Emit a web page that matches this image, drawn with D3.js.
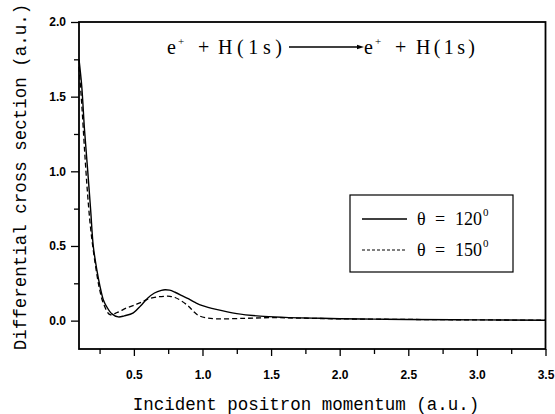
<!DOCTYPE html>
<html lang="en">
<head>
    <meta charset="UTF-8">
    <title>Differential cross section</title>
</head>
<style>
    body { margin: 0; background: #fff; }
    .tick text { font-family: "Liberation Sans", Arial, sans-serif; font-weight: bold; font-size: 12px; fill: #000; }
    .axis-title { font-family: "Liberation Mono", "Courier New", monospace; font-size: 17.5px; fill: #000; }
    .serif { font-family: "Liberation Serif", "Times New Roman", serif; fill: #000; }
</style>
<body>
<script src="https://d3js.org/d3.v7.min.js"></script>
<script>
    const width = 555, height = 414;
    const margin = {top: 22, right: 9.5, bottom: 65, left: 79};

    // theta = 120 deg (solid)
    const mom120 = [0.1, 0.12, 0.14, 0.163, 0.185, 0.204, 0.23, 0.253, 0.277, 0.30, 0.34, 0.386, 0.43, 0.496, 0.55, 0.6, 0.65, 0.7, 0.727, 0.76, 0.8, 0.85, 0.9, 0.95, 1.0, 1.1, 1.25, 1.42, 1.6, 1.8, 2.0, 2.25, 2.5, 3.0, 3.5];
    const dcs120 = [1.75, 1.57, 1.28, 1.01, 0.74, 0.50, 0.34, 0.23, 0.14, 0.096, 0.045, 0.025, 0.032, 0.052, 0.10, 0.15, 0.185, 0.203, 0.207, 0.204, 0.19, 0.168, 0.145, 0.12, 0.10, 0.075, 0.047, 0.03, 0.022, 0.017, 0.013, 0.01, 0.008, 0.005, 0.003];

    // theta = 150 deg (dashed)
    const mom150 = [0.1, 0.12, 0.14, 0.16, 0.18, 0.2, 0.225, 0.25, 0.28, 0.326, 0.38, 0.447, 0.52, 0.57, 0.62, 0.68, 0.72, 0.763, 0.8, 0.85, 0.9, 0.933, 0.97, 1.03, 1.1, 1.3, 1.5, 1.7, 2.0, 2.5, 3.0, 3.5];
    const dcs150 = [1.70, 1.45, 1.15, 0.88, 0.66, 0.50, 0.34, 0.21, 0.11, 0.04, 0.055, 0.085, 0.11, 0.13, 0.15, 0.16, 0.163, 0.163, 0.155, 0.13, 0.095, 0.063, 0.035, 0.018, 0.012, 0.015, 0.02, 0.017, 0.012, 0.008, 0.005, 0.003];

    const xMajor = [0.5, 1.0, 1.5, 2.0, 2.5, 3.0, 3.5];
    const xMinor = [0.25, 0.75, 1.25, 1.75, 2.25, 2.75, 3.25];
    const yMajor = [0.0, 0.5, 1.0, 1.5, 2.0];
    const yMinor = [0.25, 0.75, 1.25, 1.75];

    const svg = d3.select("body")
        .append("svg")
        .attr("width", width)
        .attr("height", height);

    const x = d3.scaleLinear().domain([0.1, 3.5]).range([margin.left, width - margin.right]);
    const y = d3.scaleLinear().domain([-0.19, 2.0]).range([height - margin.bottom, margin.top]);

    // frame
    svg.append("rect")
        .attr("x", x(0.1)).attr("y", y(2.0))
        .attr("width", x(3.5) - x(0.1)).attr("height", y(-0.19) - y(2.0))
        .attr("fill", "none").attr("stroke", "#000").attr("stroke-width", 1.8);

    svg.append("g")
        .attr("transform", "translate(0," + y(-0.19) + ")")
        .call(d3.axisBottom(x).tickValues(xMajor).tickFormat(d3.format(".1f")).tickSize(7).tickPadding(14));
    svg.append("g")
        .attr("transform", "translate(0," + y(-0.19) + ")")
        .call(d3.axisBottom(x).tickValues(xMinor).tickFormat("").tickSize(5));

    svg.append("g")
        .attr("transform", "translate(" + x(0.1) + ",0)")
        .call(d3.axisLeft(y).tickValues(yMajor).tickFormat(d3.format(".1f")).tickSize(8).tickPadding(5));
    svg.append("g")
        .attr("transform", "translate(" + x(0.1) + ",0)")
        .call(d3.axisLeft(y).tickValues(yMinor).tickFormat("").tickSize(5));

    svg.selectAll(".domain").remove();
    svg.selectAll(".tick line").attr("stroke", "#000").attr("stroke-width", 1.3);

    const line = d3.line()
        .x(function (d) { return x(d[0]); })
        .y(function (d) { return y(d[1]); })
        .curve(d3.curveCatmullRom.alpha(0.5));

    svg.append("path")
        .datum(d3.zip(mom120, dcs120))
        .attr("d", line)
        .attr("fill", "none").attr("stroke", "#000").attr("stroke-width", 1.4);

    svg.append("path")
        .datum(d3.zip(mom150, dcs150))
        .attr("d", line)
        .attr("fill", "none").attr("stroke", "#000").attr("stroke-width", 1.3)
        .attr("stroke-dasharray", "5,3");

    // axis titles
    svg.append("text")
        .attr("class", "axis-title")
        .attr("x", 306)
        .attr("y", 410)
        .attr("text-anchor", "middle")
        .text("Incident positron momentum (a.u.)");

    svg.append("text")
        .attr("class", "axis-title")
        .attr("transform", "translate(26,177) rotate(-90)")
        .attr("text-anchor", "middle")
        .text("Differential cross section (a.u.)");

    // reaction label, pieces placed as in the figure
    function reaction(x0, hStart, hWidth) {
        const g = svg.append("g").attr("class", "serif");
        g.append("text").attr("x", x0).attr("y", 54).style("font-size", "20px").text("e");
        g.append("text").attr("x", x0 + 11).attr("y", 45).style("font-size", "11px").text("+");
        g.append("text").attr("x", x0 + 31).attr("y", 54).style("font-size", "20px").text("+");
        g.append("text").attr("x", hStart).attr("y", 54).style("font-size", "20px")
            .attr("textLength", hWidth).attr("lengthAdjust", "spacing").text("H(1s)");
    }
    reaction(167, 218, 64);
    reaction(364, 416, 59);
    svg.append("line")
        .attr("x1", 289).attr("x2", 360).attr("y1", 47).attr("y2", 47)
        .attr("stroke", "#000").attr("stroke-width", 1.3);
    svg.append("path")
        .attr("d", "M357,44.8L364,47L357,49.2Z").attr("fill", "#000");

    // legend
    svg.append("rect")
        .attr("x", 350).attr("y", 195).attr("width", 163).attr("height", 77)
        .attr("fill", "#fff").attr("stroke", "#000").attr("stroke-width", 1.2);
    const legendItems = [{label: "120", dash: null, yy: 219}, {label: "150", dash: "3,2", yy: 250}];
    legendItems.forEach(function (d) {
        svg.append("line")
            .attr("x1", 362).attr("x2", 407).attr("y1", d.yy).attr("y2", d.yy)
            .attr("stroke", "#000").attr("stroke-width", d.dash ? 1 : 1.6)
            .attr("stroke-dasharray", d.dash);
        const g = svg.append("g").attr("class", "serif").style("font-size", "18px");
        g.append("text").attr("x", 417).attr("y", d.yy + 6).text("\u03b8");
        g.append("text").attr("x", 435).attr("y", d.yy + 6).text("=");
        g.append("text").attr("x", 455).attr("y", d.yy + 6).text(d.label);
        g.append("text").attr("x", 483).attr("y", d.yy - 3).style("font-size", "11px").text("0");
    });
</script>
</body>
</html>
